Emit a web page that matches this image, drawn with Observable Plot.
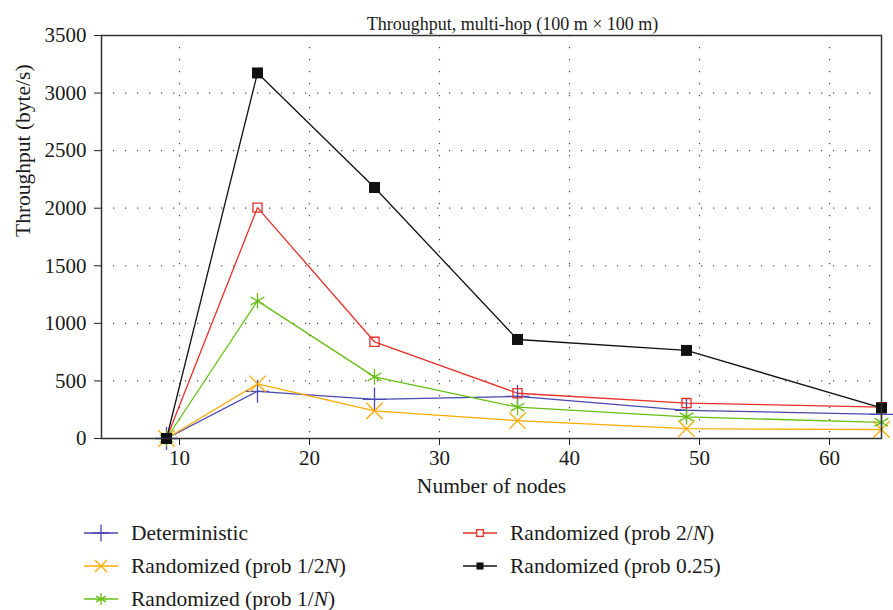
<!DOCTYPE html>
<html><head><meta charset="utf-8">
<script src="https://cdn.jsdelivr.net/npm/d3@7"></script>
<script src="https://cdn.jsdelivr.net/npm/@observablehq/plot@0.6"></script>
<style>
body{margin:0;background:#fff;}
#wrap{position:relative;width:893px;height:610px;font-family:"Liberation Serif",serif;background:#fff;}
.leg{position:absolute;display:flex;align-items:center;height:28px;font-size:21.5px;color:#1a1a1a;white-space:nowrap;}
.leg svg{margin-right:13px;flex:none}
</style></head><body><div id="wrap"></div>
<script>
const nodes = [9, 16, 25, 36, 49, 64];
const deterministic = [0, 410, 340, 365, 245, 210];
const randHalfN = [0, 475, 240, 155, 85, 78];
const randOneN = [0, 1195, 535, 272, 188, 140];
const randTwoN = [0, 2005, 840, 393, 308, 272];
const randQuarter = [0, 3175, 2180, 860, 765, 265];
const seriesNames = ["Deterministic", "Randomized (prob 1/2N)", "Randomized (prob 1/N)", "Randomized (prob 2/N)", "Randomized (prob 0.25)"];
const seriesValues = [deterministic, randHalfN, randOneN, randTwoN, randQuarter];
const colors = ["#4848b0", "#ffaa00", "#66bf10", "#e8302a", "#111111"];
const symbols = ["plus", "times", "asterisk", "square2", "square"];
const xTicks = [10, 20, 30, 40, 50, 60];
const yTicks = [0, 500, 1000, 1500, 2000, 2500, 3000, 3500];
const yGrid = [500, 1000, 1500, 2000, 2500, 3000];
const titleText = "Throughput, multi-hop (100 m × 100 m)";
const xLabel = "Number of nodes";
const yLabel = "Throughput (byte/s)";

const data = seriesNames.flatMap((s, i) => nodes.map((n, j) => ({series: s, n, v: seriesValues[i][j]})));

const dotMarks = seriesNames.map((s, i) => {
  const d = data.filter(r => r.series === s);
  const sym = symbols[i];
  if (sym === "square") return Plot.dot(d, {x: "n", y: "v", symbol: sym, r: 6.2, fill: colors[i], stroke: "none"});
  if (sym === "square2") return Plot.dot(d, {x: "n", y: "v", symbol: sym, r: 5.8, fill: "none", stroke: colors[i], strokeWidth: 1.3});
  return Plot.dot(d, {x: "n", y: "v", symbol: sym, r: 7.5, fill: "none", stroke: colors[i], strokeWidth: 1.3});
});
const lineMarks = seriesNames.map((s, i) =>
  Plot.line(data.filter(r => r.series === s), {x: "n", y: "v", stroke: colors[i], strokeWidth: 1.3}));

const plot = Plot.plot({
  width: 893, height: 510,
  marginTop: 35, marginLeft: 101, marginRight: 12, marginBottom: 72,
  style: {fontFamily: "'Liberation Serif', serif", fontSize: "21px", color: "#1a1a1a", background: "white"},
  x: {domain: [4, 64]},
  y: {domain: [0, 3500]},
  marks: [
    Plot.gridX(xTicks, {stroke: "#333", strokeOpacity: 0.9, strokeWidth: 1.2, strokeDasharray: "1.2,10.8"}),
    Plot.gridY(yGrid, {stroke: "#333", strokeOpacity: 0.9, strokeWidth: 1.2, strokeDasharray: "1.2,10.8"}),
    ...lineMarks,
    ...dotMarks,
    Plot.frame({stroke: "#333", strokeWidth: 1.5}),
    Plot.axisX(xTicks, {tickSize: 7, tickPadding: 5, label: null, fontSize: 21, stroke: "#222", tickFormat: "d"}),
    Plot.axisY(yTicks, {tickSize: 7, tickPadding: 8, label: null, fontSize: 21, stroke: "#222", tickFormat: "d"}),
    Plot.text([titleText], {frameAnchor: "top", dx: 21, dy: -18, fontSize: 18, fill: "#1a1a1a"}),
    Plot.text([xLabel], {frameAnchor: "bottom", dy: 54, fontSize: 21.5, fill: "#1a1a1a"}),
    Plot.text([yLabel], {frameAnchor: "left", dx: -78, rotate: -90, fontSize: 21.5, fill: "#1a1a1a"})
  ]
});
const wrap = document.getElementById("wrap");
wrap.appendChild(plot);

// Legend
const legendPos = [
  {x: 84, y: 533}, {x: 84, y: 566}, {x: 84, y: 599},
  {x: 463, y: 533}, {x: 463, y: 566}
];
const symMap = {plus: d3.symbolPlus, times: d3.symbolTimes, asterisk: d3.symbolAsterisk, square2: d3.symbolSquare2, square: d3.symbolSquare};
seriesNames.forEach((s, i) => {
  const div = document.createElement("div");
  div.className = "leg";
  div.style.left = legendPos[i].x + "px";
  div.style.top = (legendPos[i].y - 14) + "px";
  const sw = d3.create("svg").attr("width", 34).attr("height", 20);
  sw.append("line").attr("x1", 0).attr("x2", 34).attr("y1", 10).attr("y2", 10).attr("stroke", colors[i]).attr("stroke-width", 1.3);
  const sym = symbols[i];
  const rr = sym === "square" ? 4 : sym === "square2" ? 4.3 : 5.5;
  const path = d3.symbol(symMap[sym], rr * rr * Math.PI)();
  const p = sw.append("path").attr("d", path).attr("transform", "translate(17,10)");
  if (sym === "square") p.attr("fill", colors[i]);
  else p.attr("fill", sym === "square2" ? "white" : "none").attr("stroke", colors[i]).attr("stroke-width", 1.3);
  div.appendChild(sw.node());
  const label = document.createElement("span");
  const m = s.match(/^(.*?)(N)(\))$/);
  if (m) {
    label.append(m[1]);
    const it = document.createElement("i"); it.textContent = "N"; label.append(it);
    label.append(")");
  } else label.textContent = s;
  div.appendChild(label);
  wrap.appendChild(div);
});
</script>
</body></html>
